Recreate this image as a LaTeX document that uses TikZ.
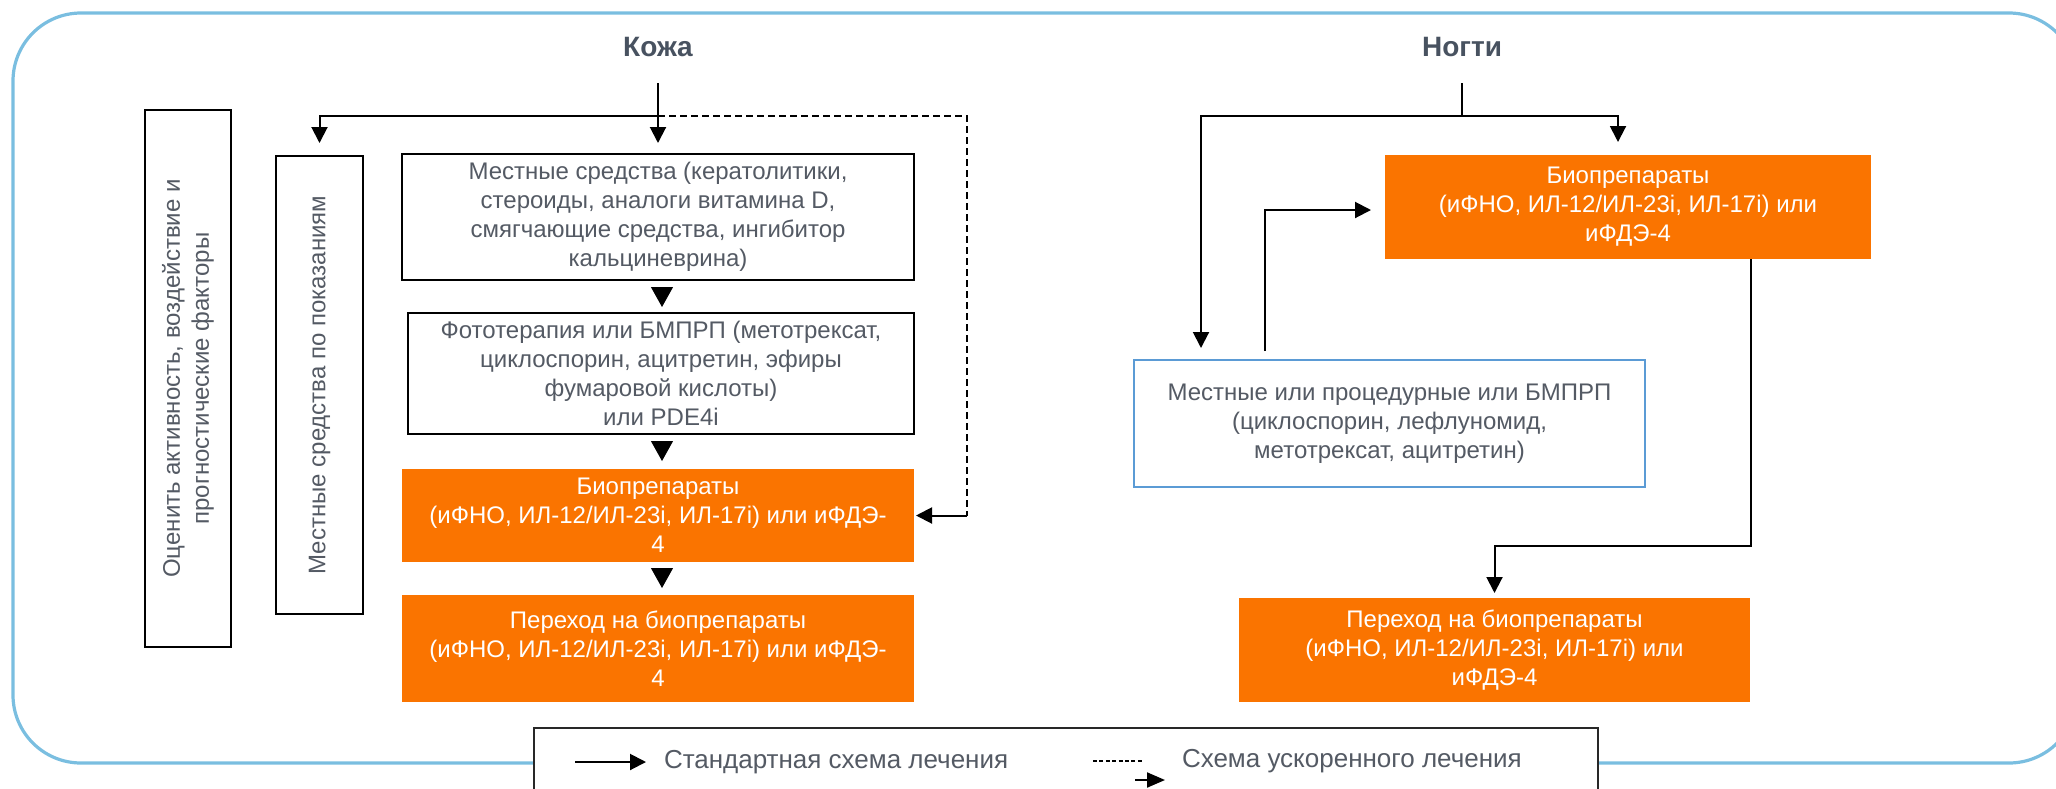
\documentclass[tikz,border=0pt]{standalone}
\usepackage{fontspec}
\setmainfont{Liberation Sans}
\usetikzlibrary{arrows.meta,calc}
\definecolor{frameblue}{RGB}{122,190,224}
\definecolor{orng}{RGB}{250,116,0}
\definecolor{txtgray}{RGB}{84,90,100}
\definecolor{titlegray}{RGB}{72,82,96}
\definecolor{boxblue}{RGB}{91,155,213}
\definecolor{legborder}{RGB}{40,40,40}
\begin{document}
\begin{tikzpicture}[x=0.5pt,y=-0.5pt,
  every node/.style={inner sep=0pt, outer sep=0pt, font=\fontsize{12pt}{14.5pt}\selectfont, text=txtgray, align=center},
  whitebox/.style={draw=black, line width=1pt, fill=white, rectangle},
  orangebox/.style={fill=orng, text=white, rectangle},
  bluebox/.style={draw=boxblue, line width=0.8pt, fill=white, rectangle},
  titletext/.style={font=\fontsize{14pt}{16pt}\selectfont\bfseries, text=titlegray},
  conn/.style={line width=1pt, -{Triangle[width=8pt,length=8pt]}},
  plainline/.style={line width=1pt},
  dashline/.style={line width=0.8pt, dash pattern=on 3.5pt off 2pt},
  tri/.style={line width=0.5pt, -{Triangle[width=11pt,length=10pt]}},
  legtext/.style={font=\fontsize{13pt}{15pt}\selectfont, anchor=west},
  legbox/.style={draw=legborder, line width=1pt, fill=white, rectangle}
]
\clip (0,0) rectangle (2056,788);
\draw[frameblue, line width=1.6pt, rounded corners=34pt] (13,13) rectangle (2077,763);

% titles
\node[titletext] (kozha) at (658,47) {Кожа};
\node[titletext] (nogti) at (1462,47) {Ногти};

% left column
\node[whitebox, rotate=90, minimum width=268.5pt, minimum height=43pt] (b1) at (188,378.5)
  {Оценить активность, воздействие и\\прогностические факторы};
\node[whitebox, rotate=90, minimum width=229pt, minimum height=43.5pt] (b2) at (319.5,385)
  {Местные средства по показаниям};
\node[whitebox, minimum width=256pt, minimum height=63pt] (b3) at (658,217)
  {Местные средства (кератолитики,\\стероиды, аналоги витамина D,\\смягчающие средства, ингибитор\\кальциневрина)};
\node[whitebox, minimum width=253pt, minimum height=60.5pt] (b4) at (661,373.5)
  {Фототерапия или БМПРП (метотрексат,\\циклоспорин, ацитретин, эфиры\\фумаровой кислоты)\\или PDE4i};
\node[orangebox, minimum width=256pt, minimum height=46.5pt] (b5) at (658,515.5)
  {Биопрепараты\\(иФНО, ИЛ-12/ИЛ-23i, ИЛ-17i) или иФДЭ-\\4};
\node[orangebox, minimum width=256pt, minimum height=53.5pt] (b6) at (658,648.5)
  {Переход на биопрепараты\\(иФНО, ИЛ-12/ИЛ-23i, ИЛ-17i) или иФДЭ-\\4};

% right column
\node[orangebox, minimum width=243pt, minimum height=52pt] (n1) at (1628,207)
  {Биопрепараты\\(иФНО, ИЛ-12/ИЛ-23i, ИЛ-17i) или\\иФДЭ-4};
\node[bluebox, minimum width=255.5pt, minimum height=63.5pt] (n2) at (1389.5,423.5)
  {Местные или процедурные или БМПРП\\(циклоспорин, лефлуномид,\\метотрексат, ацитретин)};
\node[orangebox, minimum width=255.5pt, minimum height=52pt] (n3) at (1494.5,650)
  {Переход на биопрепараты\\(иФНО, ИЛ-12/ИЛ-23i, ИЛ-17i) или\\иФДЭ-4};

% left connectors
\coordinate (kin) at (658,83);
\coordinate (ksplit) at (658,116);
\coordinate (kleft) at (319.5,116);
\coordinate (kd1) at (967,116);
\coordinate (kd2) at (967,515.5);
\draw[conn, shorten >=5.5pt] (kin) -- (b3.north);
\draw[conn, shorten >=6.5pt] (ksplit) -- (kleft) -- (b2.east);
\draw[dashline] (ksplit) -- (kd1) -- (kd2);
\draw[conn, shorten >=1pt] (kd2) -- (b5.east);
\draw[tri] ($(b3.south)+(4,7)$) -- ($(b4.north)+(1,-6)$);
\draw[tri] ($(b4.south)+(1,7)$) -- ($(b5.north)+(4,-8)$);
\draw[tri] ($(b5.south)+(4,7)$) -- ($(b6.north)+(4,-7)$);

% right connectors
\coordinate (nin) at (1462,83);
\coordinate (nsplit) at (1462,116);
\coordinate (nl) at (1201,116);
\coordinate (nr) at (1618,116);
\draw[plainline] (nin) -- (nsplit);
\draw[conn, shorten >=6.5pt] (nsplit) -- (nr) -- (nr |- n1.north);
\draw[conn, shorten >=6pt] (nsplit) -- (nl) -- (nl |- n2.north);
\coordinate (nup) at ($(n2.north west)+(131,-9)$);
\draw[conn, shorten >=7pt] (nup) |- ($(n1.west)+(0,3)$);
\coordinate (nstart) at ($(n1.south west)+(366,0)$);
\coordinate (nbend) at ($(n1.south west)+(366,287)$);
\draw[conn, shorten >=2.5pt] (nstart) -- (nbend) -| (n3.north);

% legend
\node[legbox, minimum width=532pt, minimum height=36pt, anchor=north west] (legend) at (534,728) {};
\coordinate (la1) at (575,762);
\coordinate (la2) at (646,762);
\draw[conn] (la1) -- (la2);
\node[legtext] (lt1) at (664,762) {Стандартная схема лечения};
\coordinate (ld1) at (1093,761);
\coordinate (ld2) at (1142,761);
\draw[line width=0.6pt, dash pattern=on 2pt off 1.2pt] (ld1) -- (ld2);
\coordinate (la3) at (1135,780);
\coordinate (la4) at (1165,780);
\draw[line width=1pt, -{Triangle[width=7.5pt,length=9pt]}] (la3) -- (la4);
\node[legtext] (lt2) at (1182,761) {Схема ускоренного лечения};
\end{tikzpicture}
\end{document}
